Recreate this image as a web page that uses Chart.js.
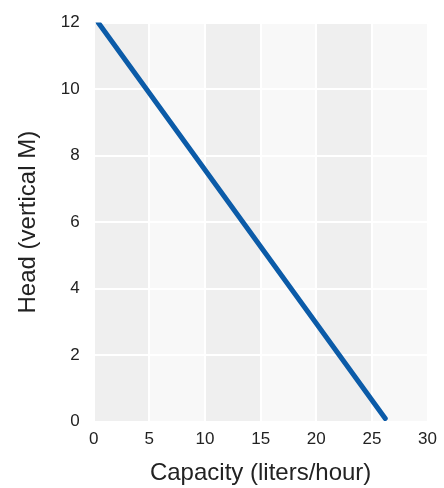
<!DOCTYPE html>
<html>
<head>
<meta charset="utf-8">
<script src="https://cdn.jsdelivr.net/npm/chart.js@4"></script>
<style>
  html, body { margin: 0; padding: 0; background: #fff; }
  #wrap { width: 444px; height: 488px; }
</style>
</head>
<body>
<div id="wrap"><canvas id="chart"></canvas></div>
<script>
// pump curve: capacity vs head
const capacity = [0.4, 26.2];
const head = [12, 0.1];
const xTicks = [0, 5, 10, 15, 20, 25, 30];
const yTicks = [0, 2, 4, 6, 8, 10, 12];

// alternating vertical bands behind the plot
const bands = {
    id: 'bands',
    beforeDraw(chart) {
        const { ctx, chartArea, scales } = chart;
        ctx.save();
        for (let i = 0; i < xTicks.length - 1; i++) {
            const x0 = scales.x.getPixelForValue(xTicks[i]);
            const x1 = scales.x.getPixelForValue(xTicks[i + 1]);
            ctx.fillStyle = i % 2 === 0 ? '#efefef' : '#f8f8f8';
            ctx.fillRect(x0, chartArea.top, x1 - x0, chartArea.bottom - chartArea.top);
        }
        ctx.restore();
    }
};

new Chart(document.getElementById('chart'), {
    type: 'scatter',
    data: {
        datasets: [{
            data: capacity.map((c, i) => ({ x: c, y: head[i] })),
            showLine: true,
            borderColor: '#0b5ba8',
            borderWidth: 5,
            borderCapStyle: 'round',
            pointRadius: 0
        }]
    },
    plugins: [bands],
    options: {
        responsive: true,
        maintainAspectRatio: false,
        animation: false,
        layout: { padding: { top: -4, right: 12, left: 14, bottom: 0 } },
        plugins: { legend: { display: false }, tooltip: { enabled: false } },
        scales: {
            x: {
                min: 0, max: 30,
                afterBuildTicks: s => { s.ticks = xTicks.map(v => ({ value: v })); },
                grid: { color: '#ffffff', lineWidth: 2, drawTicks: false },
                border: { display: false },
                ticks: { color: '#222', font: { family: 'Liberation Sans', size: 17 }, padding: 7 },
                title: { display: true, text: 'Capacity (liters/hour)', color: '#222',
                         font: { family: 'Liberation Sans', size: 24 }, padding: { top: 3, bottom: 0 } }
            },
            y: {
                min: 0, max: 12,
                afterBuildTicks: s => { s.ticks = yTicks.map(v => ({ value: v })); },
                grid: { color: '#ffffff', lineWidth: 2, drawTicks: false },
                border: { display: false },
                ticks: { color: '#222', font: { family: 'Liberation Sans', size: 17, lineHeight: 1 }, padding: 14 },
                title: { display: true, text: 'Head (vertical M)', color: '#222',
                         font: { family: 'Liberation Sans', size: 24 }, padding: { top: 0, bottom: 4 } }
            }
        }
    }
});
</script>
</body>
</html>
